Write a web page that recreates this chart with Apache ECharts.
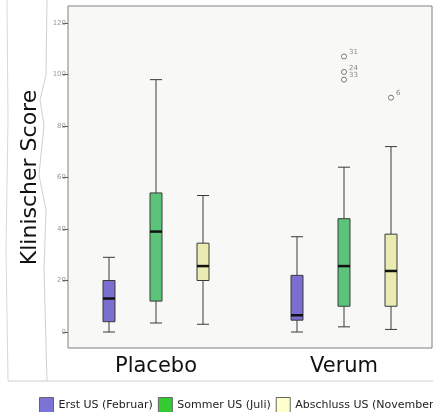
<!DOCTYPE html>
<html>
<head>
<meta charset="utf-8">
<script src="https://cdn.jsdelivr.net/npm/echarts@6/dist/echarts.min.js"></script>
<style>
  html, body { margin: 0; padding: 0; background: #fff; }
  #main { width: 433px; height: 412px; }
</style>
</head>
<body>
<div id="main"></div>
<script>
// gruppen (x-achse) und messzeitpunkte (serien)
var categories = ['Placebo', 'Verum']
var groups = ['Erst US (Februar)', 'Sommer US (Juli)', 'Abschluss US (November)']

// [min, Q1, median, Q3, max] je Gruppe: Placebo, Verum
var erstUS      = [[0, 4, 13, 20, 29], [0, 4.6, 6.5, 22, 37]]
var sommerUS    = [[3.5, 12, 39, 54, 98], [2, 10, 25.6, 44, 64]]
var abschlussUS = [[3, 20, 25.6, 34.5, 53], [1, 10, 23.7, 38, 72]]

// ausreisser: [gruppe, serie, wert, fallnummer]
var outliers = [
  [1, 1, 107, '31'],
  [1, 1, 101, '24'],
  [1, 1, 98, '33'],
  [1, 2, 91, '6']
]

var yTicks = [0, 20, 40, 60, 80, 100, 120]

var boxColors = ['#7a6fd0', '#5cc47a', '#e9ebb0']
var legendColors = ['#7b73d6', '#33cc33', '#ffffcc']

// slots: 3 boxen pro gruppe + eine leere luecke dazwischen
var slots = []
categories.forEach(function (c, ci) {
  groups.forEach(function (g, gi) { slots.push(c + '|' + gi) })
  if (ci < categories.length - 1) slots.push('gap' + ci)
})
var slotIndex = function (ci, gi) { return ci * (groups.length + 1) + gi }
var labelSlots = categories.map(function (c, ci) { return slotIndex(ci, 1) })

var seriesData = [erstUS, sommerUS, abschlussUS]

// alle boxen in einer serie, damit sie mittig im slot sitzen
var boxData = slots.map(function () { return ['-', '-', '-', '-', '-'] })
var medians = []
seriesData.forEach(function (vals, gi) {
  vals.forEach(function (v, ci) {
    boxData[slotIndex(ci, gi)] = { value: v, itemStyle: { color: boxColors[gi] } }
    medians.push([slotIndex(ci, gi), v[2]])
  })
})

var series = [{
  type: 'boxplot',
  boxWidth: [12, 12],
  itemStyle: { borderColor: '#3a3a3a', borderWidth: 1 },
  data: boxData
}, {
  // median dicker zeichnen
  type: 'scatter',
  symbol: 'rect',
  symbolSize: [12, 2.5],
  itemStyle: { color: '#111', opacity: 1 },
  z: 5,
  data: medians
}, {
  type: 'scatter',
  symbol: 'circle',
  symbolSize: 5,
  itemStyle: { color: '#fff', borderColor: '#777', borderWidth: 1, opacity: 1 },
  label: {
    show: true, position: 'right', distance: 2, offset: [0, -4],
    fontSize: 7, color: '#888', fontFamily: 'DejaVu Sans',
    formatter: function (p) { return p.data[2] }
  },
  data: outliers.map(function (o) { return [slotIndex(o[0], o[1]), o[2], o[3]] })
}]
series.forEach(function (s) { s.xAxisIndex = 1; s.yAxisIndex = 1 })

// nur fuer die legende
groups.forEach(function (g, gi) {
  series.push({ name: g, type: 'scatter', xAxisIndex: 1, yAxisIndex: 1, itemStyle: { color: legendColors[gi], opacity: 1 }, data: [] })
})

var myChart = echarts.init(document.getElementById('main'))
var option = {
  animation: false,
  backgroundColor: '#fff',
  grid: [
    { left: 68, right: 1, top: 6, bottom: 64, show: true, backgroundColor: '#f8f8f7', borderColor: '#808080', borderWidth: 1 },
    { left: 85.5, right: 18.5, top: 23, bottom: 80 }
  ],
  xAxis: [
    { type: 'category', gridIndex: 0, data: ['x'], show: false },
    {
      type: 'category', gridIndex: 1, data: slots, offset: 16,
      axisLine: { show: false },
      axisTick: {
        alignWithLabel: true, length: 3, lineStyle: { color: '#666' },
        interval: function (i) { return labelSlots.indexOf(i) >= 0 }
      },
      axisLabel: {
        margin: 8, fontSize: 21, color: '#111', fontFamily: 'DejaVu Sans',
        interval: function (i) { return labelSlots.indexOf(i) >= 0 },
        formatter: function (v) { return v.split('|')[0] }
      }
    }
  ],
  yAxis: [
    { type: 'value', gridIndex: 0, show: false, min: -6, max: 126 },
    {
      type: 'value', gridIndex: 1, min: yTicks[0], max: yTicks[yTicks.length - 1], interval: 20,
      offset: 17.5,
      name: 'Klinischer Score', nameLocation: 'middle', nameGap: 24,
      nameTextStyle: { fontSize: 22, color: '#111', fontFamily: 'DejaVu Sans' },
      axisLine: { show: false },
      axisTick: { show: true, length: 5, lineStyle: { color: '#555' } },
      axisLabel: { margin: 2, fontSize: 7, color: '#999', fontFamily: 'DejaVu Sans' },
      splitLine: { show: false }
    }
  ],
  legend: {
    left: 34, top: 392, width: 800,
    itemWidth: 14, itemHeight: 15, itemGap: 5,
    textStyle: { fontSize: 11, color: '#222', fontFamily: 'DejaVu Sans' },
    data: groups.map(function (g, gi) {
      return { name: g, icon: 'rect', itemStyle: { color: legendColors[gi], opacity: 1, borderColor: '#666', borderWidth: 1 } }
    })
  },
  graphic: [
    { type: 'line', shape: { x1: 8, y1: 381, x2: 433, y2: 381 }, style: { stroke: '#cfcfcf', lineWidth: 1 } },
    { type: 'polyline', shape: { points: [[7, 0], [8, 120], [6, 250], [8, 381]] }, style: { stroke: '#d8d8d8', lineWidth: 1, fill: null } },
    { type: 'polyline', shape: { points: [[47, 0], [46, 75], [40, 100], [44, 125], [39, 175], [46, 210], [44, 270], [47, 381]] }, style: { stroke: '#d0d0d0', lineWidth: 1, fill: null } }
  ],
  series: series
}
myChart.setOption(option)
</script>
</body>
</html>
